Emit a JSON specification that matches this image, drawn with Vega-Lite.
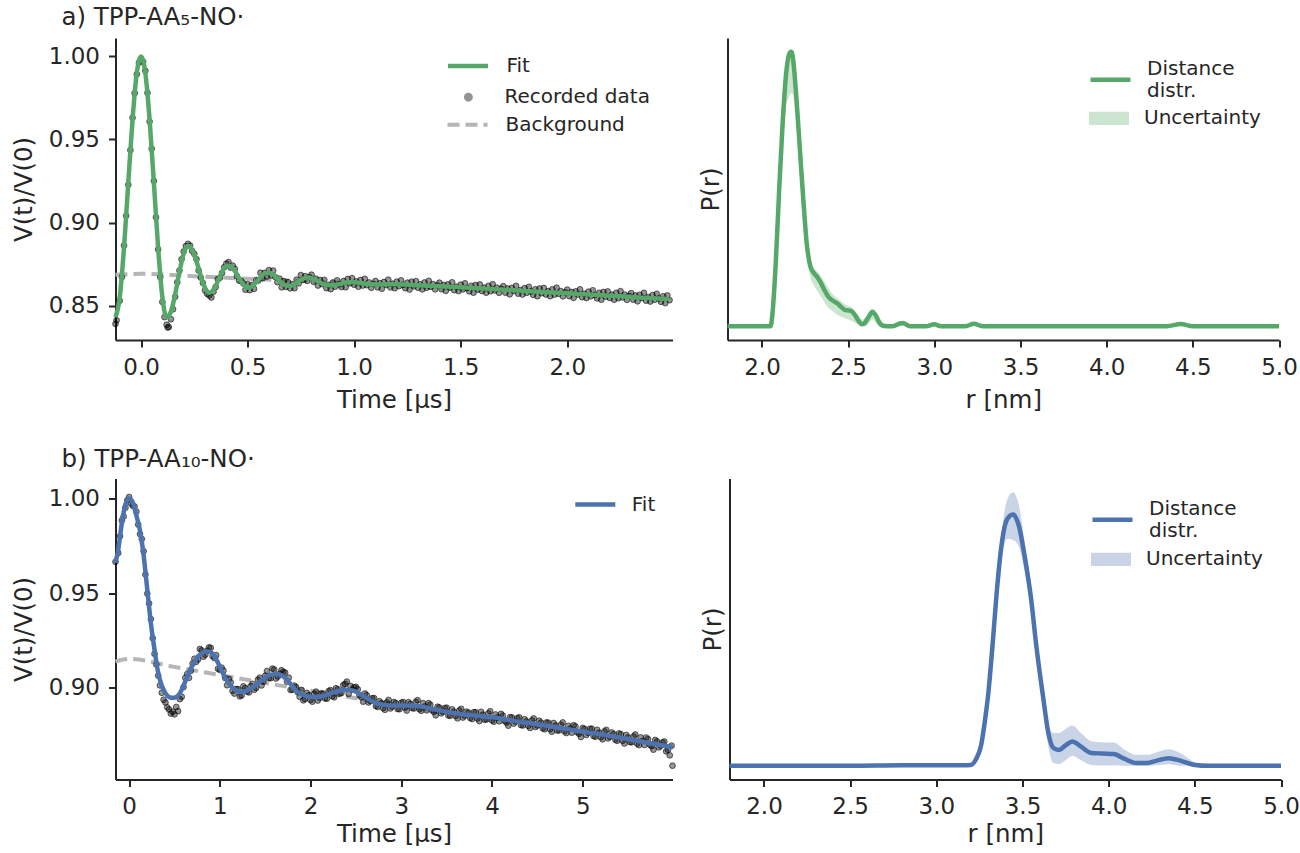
{
"$schema": "https://vega.github.io/schema/vega-lite/v6.json",
"background": "white",
"padding": {"left": 10.5, "top": 5, "right": 0, "bottom": 0},
"config": {
  "font": "DejaVu Sans",
  "view": {"stroke": null},
  "axis": {"grid": false, "domainColor": "#262626", "domainWidth": 2, "tickColor": "#262626", "tickWidth": 2, "tickSize": 7, "labelFontSize": 23, "labelColor": "#262626", "labelPadding": 9, "titleFontSize": 24.5, "titleFontWeight": "normal", "titleColor": "#262626", "titlePadding": 8, "labelFlush": false, "labelOverlap": false},
  "legend": {"labelFontSize": 20, "labelColor": "#262626", "labelFont": "DejaVu Sans", "padding": 0, "orient": "none", "title": null},
  "title": {"fontSize": 24.5, "fontWeight": "normal", "color": "#262626", "anchor": "start", "font": "DejaVu Sans"}
},
"datasets": {
"a_fit": [
{"t":-0.12,"v":0.843},{"t":-0.10,"v":0.855},{"t":-0.08,"v":0.885},{"t":-0.06,"v":0.924},{"t":-0.04,"v":0.962},{"t":-0.02,"v":0.990},{"t":0.00,"v":1.000},{"t":0.02,"v":0.990},{"t":0.04,"v":0.962},{"t":0.06,"v":0.924},{"t":0.08,"v":0.885},{"t":0.10,"v":0.855},{"t":0.12,"v":0.843},{"t":0.14,"v":0.8464},{"t":0.16,"v":0.8568},{"t":0.18,"v":0.8702},{"t":0.20,"v":0.8814},{"t":0.22,"v":0.8860},{"t":0.24,"v":0.8836},{"t":0.26,"v":0.8767},{"t":0.28,"v":0.8680},{"t":0.30,"v":0.8608},{"t":0.32,"v":0.8578},{"t":0.34,"v":0.8597},{"t":0.36,"v":0.8647},{"t":0.38,"v":0.8704},{"t":0.40,"v":0.8740},{"t":0.42,"v":0.8738},{"t":0.44,"v":0.8709},{"t":0.46,"v":0.8665},{"t":0.48,"v":0.8627},{"t":0.50,"v":0.8608},{"t":0.52,"v":0.8616},{"t":0.54,"v":0.8640},{"t":0.56,"v":0.8671},{"t":0.58,"v":0.8694},{"t":0.60,"v":0.8698},{"t":0.62,"v":0.8686},{"t":0.64,"v":0.8662},{"t":0.66,"v":0.8638},{"t":0.68,"v":0.8621},{"t":0.70,"v":0.8619},{"t":0.72,"v":0.8629},{"t":0.74,"v":0.8647},{"t":0.76,"v":0.8662},{"t":0.78,"v":0.8669},{"t":0.80,"v":0.8665},{"t":0.82,"v":0.8654},{"t":0.84,"v":0.8640},{"t":0.86,"v":0.8628},{"t":0.88,"v":0.8622},{"t":0.90,"v":0.8623},{"t":0.92,"v":0.8627},{"t":0.94,"v":0.8633},{"t":0.96,"v":0.8639},{"t":0.98,"v":0.8642},{"t":1.00,"v":0.8641},{"t":1.04,"v":0.8634},{"t":1.08,"v":0.8628},{"t":1.12,"v":0.8627},{"t":1.16,"v":0.8629},{"t":1.20,"v":0.8628},{"t":1.30,"v":0.8623},{"t":1.40,"v":0.8617},{"t":1.50,"v":0.8610},{"t":1.60,"v":0.8603},{"t":1.70,"v":0.8596},{"t":1.80,"v":0.8588},{"t":1.90,"v":0.8581},{"t":2.00,"v":0.8574},{"t":2.10,"v":0.8567},{"t":2.20,"v":0.8560},{"t":2.30,"v":0.8552},{"t":2.40,"v":0.8545},{"t":2.48,"v":0.8540}
],
"a_rec": [
{"t":-0.12,"v":0.8390},{"t":-0.115,"v":0.8412},{"t":-0.10,"v":0.8530},{"t":-0.09,"v":0.8672},{"t":-0.08,"v":0.8862},{"t":-0.07,"v":0.9041},{"t":-0.06,"v":0.9228},{"t":-0.05,"v":0.9436},{"t":-0.04,"v":0.9631},{"t":-0.03,"v":0.9779},{"t":-0.02,"v":0.9893},{"t":-0.01,"v":0.9962},{"t":0.00,"v":0.9985},{"t":0.01,"v":0.9967},{"t":0.02,"v":0.9914},{"t":0.03,"v":0.9781},{"t":0.04,"v":0.9608},{"t":0.05,"v":0.9445},{"t":0.06,"v":0.9251},{"t":0.07,"v":0.9032},{"t":0.08,"v":0.8838},{"t":0.09,"v":0.8671},{"t":0.10,"v":0.8522},{"t":0.11,"v":0.8431},{"t":0.12,"v":0.8385},{"t":0.125,"v":0.8368},{"t":0.13,"v":0.8372},{"t":0.14,"v":0.8418},{"t":0.15,"v":0.8478},{"t":0.16,"v":0.8553},{"t":0.17,"v":0.8641},{"t":0.18,"v":0.8711},{"t":0.19,"v":0.8779},{"t":0.20,"v":0.8826},{"t":0.21,"v":0.8858},{"t":0.22,"v":0.8872},{"t":0.23,"v":0.8861},{"t":0.24,"v":0.8829},{"t":0.25,"v":0.8811},{"t":0.26,"v":0.8779},{"t":0.27,"v":0.8712},{"t":0.28,"v":0.8669},{"t":0.29,"v":0.8637},{"t":0.30,"v":0.8592},{"t":0.31,"v":0.8571},{"t":0.32,"v":0.8561},{"t":0.33,"v":0.8549},{"t":0.34,"v":0.8584},{"t":0.35,"v":0.8612},{"t":0.36,"v":0.8659},{"t":0.37,"v":0.8668},{"t":0.38,"v":0.8697},{"t":0.39,"v":0.8731},{"t":0.40,"v":0.8753},{"t":0.41,"v":0.8762},{"t":0.42,"v":0.8729},{"t":0.43,"v":0.8741},{"t":0.44,"v":0.8721},{"t":0.45,"v":0.8677},{"t":0.46,"v":0.8651},{"t":0.47,"v":0.8648},{"t":0.48,"v":0.8634},{"t":0.49,"v":0.8596},
{"t":0.50,"v":0.8629},{"t":0.51,"v":0.8593},{"t":0.52,"v":0.8624},{"t":0.53,"v":0.8601},{"t":0.54,"v":0.8654},{"t":0.55,"v":0.8651},{"t":0.56,"v":0.8698},{"t":0.57,"v":0.8665},{"t":0.58,"v":0.8697},{"t":0.59,"v":0.8675},{"t":0.60,"v":0.8714},{"t":0.61,"v":0.8682},{"t":0.62,"v":0.8711},{"t":0.63,"v":0.8672},{"t":0.64,"v":0.8641},{"t":0.65,"v":0.8662},{"t":0.66,"v":0.8610},{"t":0.67,"v":0.8647},{"t":0.68,"v":0.8613},{"t":0.69,"v":0.8641},{"t":0.70,"v":0.8604},{"t":0.71,"v":0.8629},{"t":0.72,"v":0.8605},{"t":0.73,"v":0.8656},{"t":0.74,"v":0.8634},{"t":0.75,"v":0.8684},{"t":0.76,"v":0.8655},{"t":0.77,"v":0.8677},{"t":0.78,"v":0.8649},{"t":0.79,"v":0.8672},{"t":0.80,"v":0.8686},{"t":0.81,"v":0.8643},{"t":0.82,"v":0.8662},{"t":0.83,"v":0.8621},{"t":0.84,"v":0.8654},{"t":0.85,"v":0.8629},{"t":0.86,"v":0.8655},{"t":0.87,"v":0.8605},{"t":0.88,"v":0.8625},{"t":0.89,"v":0.8599},{"t":0.90,"v":0.8639},{"t":0.91,"v":0.8614},{"t":0.92,"v":0.8652},{"t":0.93,"v":0.8628},{"t":0.94,"v":0.8612},{"t":0.95,"v":0.8648},{"t":0.96,"v":0.8611},{"t":0.97,"v":0.8660},{"t":0.98,"v":0.8634},{"t":0.99,"v":0.8665},
{"t":1.00,"v":0.8626},{"t":1.01,"v":0.8646},{"t":1.02,"v":0.8614},{"t":1.03,"v":0.8654},{"t":1.04,"v":0.8621},{"t":1.05,"v":0.8661},{"t":1.06,"v":0.8623},{"t":1.07,"v":0.8639},{"t":1.08,"v":0.8608},{"t":1.09,"v":0.8631},{"t":1.10,"v":0.8648},{"t":1.11,"v":0.8610},{"t":1.12,"v":0.8635},{"t":1.13,"v":0.8602},{"t":1.14,"v":0.8642},{"t":1.15,"v":0.8624},{"t":1.16,"v":0.8656},{"t":1.17,"v":0.8610},{"t":1.18,"v":0.8632},{"t":1.19,"v":0.8605},{"t":1.20,"v":0.8644},{"t":1.21,"v":0.8617},{"t":1.22,"v":0.8652},{"t":1.23,"v":0.8625},{"t":1.24,"v":0.8605},{"t":1.25,"v":0.8638},{"t":1.26,"v":0.8597},{"t":1.27,"v":0.8644},{"t":1.28,"v":0.8616},{"t":1.29,"v":0.8647},{"t":1.30,"v":0.8608},{"t":1.31,"v":0.8628},{"t":1.32,"v":0.8598},{"t":1.33,"v":0.8639},{"t":1.34,"v":0.8608},{"t":1.35,"v":0.8649},{"t":1.36,"v":0.8613},{"t":1.37,"v":0.8629},{"t":1.38,"v":0.8598},{"t":1.39,"v":0.8622},{"t":1.40,"v":0.8638},{"t":1.41,"v":0.8599},{"t":1.42,"v":0.8624},{"t":1.43,"v":0.8589},{"t":1.44,"v":0.8628},{"t":1.45,"v":0.8608},{"t":1.46,"v":0.8640},{"t":1.47,"v":0.8593},{"t":1.48,"v":0.8614},{"t":1.49,"v":0.8588},
{"t":1.50,"v":0.8626},{"t":1.51,"v":0.8598},{"t":1.52,"v":0.8634},{"t":1.53,"v":0.8606},{"t":1.54,"v":0.8586},{"t":1.55,"v":0.8619},{"t":1.56,"v":0.8578},{"t":1.57,"v":0.8624},{"t":1.58,"v":0.8596},{"t":1.59,"v":0.8627},{"t":1.60,"v":0.8588},{"t":1.61,"v":0.8608},{"t":1.62,"v":0.8578},{"t":1.63,"v":0.8619},{"t":1.64,"v":0.8587},{"t":1.65,"v":0.8629},{"t":1.66,"v":0.8592},{"t":1.67,"v":0.8608},{"t":1.68,"v":0.8577},{"t":1.69,"v":0.8601},{"t":1.70,"v":0.8617},{"t":1.71,"v":0.8578},{"t":1.72,"v":0.8603},{"t":1.73,"v":0.8568},{"t":1.74,"v":0.8607},{"t":1.75,"v":0.8588},{"t":1.76,"v":0.8619},{"t":1.77,"v":0.8572},{"t":1.78,"v":0.8593},{"t":1.79,"v":0.8567},{"t":1.80,"v":0.8605},{"t":1.81,"v":0.8577},{"t":1.82,"v":0.8613},{"t":1.83,"v":0.8585},{"t":1.84,"v":0.8565},{"t":1.85,"v":0.8598},{"t":1.86,"v":0.8557},{"t":1.87,"v":0.8603},{"t":1.88,"v":0.8575},{"t":1.89,"v":0.8606},{"t":1.90,"v":0.8567},{"t":1.91,"v":0.8587},{"t":1.92,"v":0.8557},{"t":1.93,"v":0.8598},{"t":1.94,"v":0.8566},{"t":1.95,"v":0.8608},{"t":1.96,"v":0.8571},{"t":1.97,"v":0.8587},{"t":1.98,"v":0.8556},{"t":1.99,"v":0.8580},
{"t":2.00,"v":0.8596},{"t":2.01,"v":0.8557},{"t":2.02,"v":0.8582},{"t":2.03,"v":0.8547},{"t":2.04,"v":0.8586},{"t":2.05,"v":0.8567},{"t":2.06,"v":0.8598},{"t":2.07,"v":0.8551},{"t":2.08,"v":0.8572},{"t":2.09,"v":0.8546},{"t":2.10,"v":0.8584},{"t":2.11,"v":0.8556},{"t":2.12,"v":0.8592},{"t":2.13,"v":0.8564},{"t":2.14,"v":0.8544},{"t":2.15,"v":0.8577},{"t":2.16,"v":0.8536},{"t":2.17,"v":0.8582},{"t":2.18,"v":0.8554},{"t":2.19,"v":0.8585},{"t":2.20,"v":0.8546},{"t":2.21,"v":0.8566},{"t":2.22,"v":0.8536},{"t":2.23,"v":0.8577},{"t":2.24,"v":0.8545},{"t":2.25,"v":0.8587},{"t":2.26,"v":0.8550},{"t":2.27,"v":0.8566},{"t":2.28,"v":0.8535},{"t":2.29,"v":0.8559},{"t":2.30,"v":0.8575},{"t":2.31,"v":0.8536},{"t":2.32,"v":0.8561},{"t":2.33,"v":0.8526},{"t":2.34,"v":0.8565},{"t":2.35,"v":0.8546},{"t":2.36,"v":0.8577},{"t":2.37,"v":0.8530},{"t":2.38,"v":0.8551},{"t":2.39,"v":0.8525},{"t":2.40,"v":0.8563},{"t":2.41,"v":0.8535},{"t":2.42,"v":0.8571},{"t":2.43,"v":0.8543},{"t":2.44,"v":0.8523},{"t":2.45,"v":0.8556},{"t":2.46,"v":0.8515},{"t":2.47,"v":0.8561},{"t":2.48,"v":0.8533}
],
"a_bg": [
{"t":-0.12,"v":0.8686},{"t":-0.06,"v":0.8689},{"t":0.0,"v":0.8692},{"t":0.25,"v":0.8677},{"t":0.5,"v":0.8662},{"t":1.0,"v":0.8634},{"t":1.5,"v":0.8605},{"t":2.0,"v":0.8573},{"t":2.48,"v":0.8542}
],
"b_fit": [
{"t":-0.15,"v":0.966},{"t":-0.12,"v":0.973},{"t":-0.08,"v":0.987},{"t":-0.04,"v":0.997},{"t":0.00,"v":1.000},{"t":0.04,"v":0.998},{"t":0.08,"v":0.991},{"t":0.12,"v":0.983},{"t":0.16,"v":0.970},{"t":0.20,"v":0.952},{"t":0.24,"v":0.934},{"t":0.28,"v":0.920},{"t":0.32,"v":0.908},{"t":0.36,"v":0.901},{"t":0.40,"v":0.897},{"t":0.44,"v":0.895},{"t":0.48,"v":0.8945},{"t":0.52,"v":0.895},{"t":0.56,"v":0.897},{"t":0.60,"v":0.901},{"t":0.64,"v":0.9055},{"t":0.68,"v":0.910},{"t":0.72,"v":0.9135},{"t":0.76,"v":0.9165},{"t":0.80,"v":0.918},{"t":0.84,"v":0.919},{"t":0.88,"v":0.919},{"t":0.92,"v":0.918},{"t":0.96,"v":0.915},{"t":1.00,"v":0.911},{"t":1.04,"v":0.907},{"t":1.08,"v":0.9035},{"t":1.12,"v":0.901},{"t":1.16,"v":0.899},{"t":1.20,"v":0.898},{"t":1.24,"v":0.8977},{"t":1.28,"v":0.898},{"t":1.32,"v":0.899},{"t":1.36,"v":0.900},{"t":1.40,"v":0.9015},{"t":1.44,"v":0.903},{"t":1.48,"v":0.9045},{"t":1.52,"v":0.906},{"t":1.56,"v":0.9068},{"t":1.60,"v":0.907},{"t":1.64,"v":0.907},{"t":1.68,"v":0.9065},{"t":1.72,"v":0.905},{"t":1.76,"v":0.903},{"t":1.80,"v":0.9005},{"t":1.84,"v":0.8985},{"t":1.88,"v":0.897},{"t":1.92,"v":0.896},{"t":1.96,"v":0.8953},{"t":2.00,"v":0.895},{"t":2.08,"v":0.895},{"t":2.16,"v":0.8958},{"t":2.24,"v":0.8972},{"t":2.32,"v":0.8983},{"t":2.40,"v":0.8988},{"t":2.48,"v":0.8982},{"t":2.56,"v":0.8962},{"t":2.64,"v":0.8938},{"t":2.72,"v":0.8918},{"t":2.80,"v":0.8908},{"t":2.90,"v":0.8905},{"t":3.05,"v":0.8905},{"t":3.15,"v":0.8903},{"t":3.25,"v":0.8897},{"t":3.35,"v":0.8887},{"t":3.45,"v":0.8876},{"t":3.55,"v":0.8867},{"t":3.65,"v":0.8860},{"t":3.80,"v":0.8852},{"t":4.00,"v":0.8842},{"t":4.25,"v":0.8823},{"t":4.50,"v":0.8805},{"t":4.75,"v":0.8786},{"t":5.00,"v":0.8767},{"t":5.25,"v":0.8748},{"t":5.50,"v":0.8727},{"t":5.75,"v":0.8705},{"t":5.99,"v":0.8684}
],
"b_rec": [
{"t":-0.15,"v":0.9665},{"t":-0.12,"v":0.9712},{"t":-0.10,"v":0.9801},{"t":-0.08,"v":0.9884},{"t":-0.06,"v":0.9905},{"t":-0.04,"v":0.9952},{"t":-0.02,"v":0.9991},{"t":0.00,"v":1.0008},{"t":0.02,"v":0.9975},{"t":0.04,"v":0.9962},{"t":0.06,"v":0.9958},{"t":0.08,"v":0.9931},{"t":0.10,"v":0.9862},{"t":0.12,"v":0.9812},{"t":0.14,"v":0.9786},{"t":0.16,"v":0.9721},{"t":0.18,"v":0.9598},{"t":0.20,"v":0.9497},{"t":0.22,"v":0.9445},{"t":0.24,"v":0.9362},{"t":0.26,"v":0.9261},{"t":0.28,"v":0.9178},{"t":0.30,"v":0.9122},{"t":0.32,"v":0.9063},{"t":0.34,"v":0.9011},{"t":0.36,"v":0.8972},{"t":0.38,"v":0.8935},{"t":0.40,"v":0.8921},{"t":0.42,"v":0.8895},{"t":0.44,"v":0.8884},{"t":0.46,"v":0.8862},{"t":0.48,"v":0.8872},{"t":0.50,"v":0.8858},{"t":0.52,"v":0.8897},{"t":0.54,"v":0.8875},{"t":0.56,"v":0.8938},{"t":0.58,"v":0.8951},{"t":0.60,"v":0.9002},{"t":0.64,"v":0.9071},{"t":0.68,"v":0.9088},{"t":0.72,"v":0.9152},{"t":0.76,"v":0.9149},{"t":0.80,"v":0.9196},{"t":0.84,"v":0.9173},{"t":0.88,"v":0.9212},{"t":0.92,"v":0.9166},{"t":0.96,"v":0.9171},{"t":1.00,"v":0.9093},{"t":1.04,"v":0.9089},{"t":1.08,"v":0.9012},{"t":1.12,"v":0.9027},{"t":1.16,"v":0.8968},{"t":1.20,"v":0.8991},{"t":1.24,"v":0.8958},{"t":1.28,"v":0.8997},{"t":1.32,"v":0.8974},{"t":1.36,"v":0.9019},{"t":1.40,"v":0.8998},{"t":1.44,"v":0.9052},{"t":1.48,"v":0.9031},{"t":1.52,"v":0.9087},{"t":1.56,"v":0.9049},{"t":1.60,"v":0.9095},{"t":1.64,"v":0.9058},{"t":1.68,"v":0.9091},{"t":1.72,"v":0.9079},{"t":1.76,"v":0.9052},{"t":1.80,"v":0.8988},{"t":1.84,"v":0.9003},{"t":1.88,"v":0.8951},{"t":1.92,"v":0.8932},{"t":1.96,"v":0.8971},{"t":2.00,"v":0.8934},{"t":2.04,"v":0.8966},{"t":2.08,"v":0.8931},{"t":2.12,"v":0.8969},{"t":2.16,"v":0.8942},{"t":2.20,"v":0.8981},{"t":2.24,"v":0.8954},{"t":2.28,"v":0.8996},{"t":2.32,"v":0.8967},{"t":2.36,"v":0.9012},{"t":2.40,"v":0.9031},{"t":2.44,"v":0.9008},{"t":2.48,"v":0.9001},{"t":2.52,"v":0.8991},{"t":2.56,"v":0.8948},{"t":2.60,"v":0.8968},{"t":2.64,"v":0.8921},{"t":2.68,"v":0.8943},{"t":2.72,"v":0.8902},{"t":2.76,"v":0.8927},{"t":2.80,"v":0.8891},{"t":2.84,"v":0.8921},{"t":2.88,"v":0.8889},{"t":2.92,"v":0.8923},{"t":2.96,"v":0.8886},{"t":3.00,"v":0.8919},{"t":3.04,"v":0.8893},{"t":3.08,"v":0.8922},{"t":3.12,"v":0.8891},{"t":3.16,"v":0.8924},{"t":3.20,"v":0.8885},{"t":3.24,"v":0.8917},{"t":3.28,"v":0.8879},{"t":3.32,"v":0.8909},{"t":3.36,"v":0.8871},{"t":3.40,"v":0.8898},{"t":3.44,"v":0.8863},{"t":3.48,"v":0.8891},{"t":3.52,"v":0.8852},{"t":3.56,"v":0.8884},{"t":3.60,"v":0.8849},{"t":3.64,"v":0.8878},{"t":3.68,"v":0.8841},{"t":3.72,"v":0.8872},{"t":3.76,"v":0.8839},{"t":3.80,"v":0.8869},{"t":3.84,"v":0.8836},{"t":3.88,"v":0.8871},{"t":3.92,"v":0.8829},{"t":3.96,"v":0.8863},{"t":4.00,"v":0.8826},{"t":4.04,"v":0.8857},{"t":4.08,"v":0.8821},{"t":4.12,"v":0.8851},{"t":4.16,"v":0.8814},{"t":4.20,"v":0.8843},{"t":4.24,"v":0.8809},{"t":4.28,"v":0.8838},{"t":4.32,"v":0.8801},{"t":4.36,"v":0.8832},{"t":4.40,"v":0.8797},{"t":4.44,"v":0.8826},{"t":4.48,"v":0.8791},{"t":4.52,"v":0.8824},{"t":4.56,"v":0.8784},{"t":4.60,"v":0.8815},{"t":4.64,"v":0.8779},{"t":4.68,"v":0.8812},{"t":4.72,"v":0.8772},{"t":4.76,"v":0.8803},{"t":4.80,"v":0.8768},{"t":4.84,"v":0.8797},{"t":4.88,"v":0.8761},{"t":4.92,"v":0.8794},{"t":4.96,"v":0.8755},{"t":5.00,"v":0.8786},{"t":5.04,"v":0.8749},{"t":5.08,"v":0.8781},{"t":5.12,"v":0.8743},{"t":5.16,"v":0.8776},{"t":5.20,"v":0.8737},{"t":5.24,"v":0.8768},{"t":5.28,"v":0.8731},{"t":5.32,"v":0.8762},{"t":5.36,"v":0.8724},{"t":5.40,"v":0.8757},{"t":5.44,"v":0.8718},{"t":5.48,"v":0.8749},{"t":5.52,"v":0.8711},{"t":5.56,"v":0.8741},{"t":5.60,"v":0.8703},{"t":5.64,"v":0.8736},{"t":5.68,"v":0.8696},{"t":5.72,"v":0.8727},{"t":5.76,"v":0.8689},{"t":5.80,"v":0.8722},{"t":5.84,"v":0.8683},{"t":5.88,"v":0.8709},{"t":5.92,"v":0.8662},{"t":5.96,"v":0.8641},{"t":5.99,"v":0.8586},
{"t":0.62,"v":0.9051},{"t":0.66,"v":0.9051},{"t":0.70,"v":0.9127},{"t":0.74,"v":0.9136},{"t":0.78,"v":0.9204},{"t":0.82,"v":0.9163},{"t":0.86,"v":0.9194},{"t":0.90,"v":0.9210},{"t":0.94,"v":0.9156},{"t":0.98,"v":0.9099},{"t":1.02,"v":0.9105},{"t":1.06,"v":0.9050},{"t":1.10,"v":0.9045},{"t":1.14,"v":0.8982},{"t":1.18,"v":0.8992},{"t":1.22,"v":0.8953},{"t":1.26,"v":0.9006},{"t":1.30,"v":0.8979},{"t":1.34,"v":0.9007},{"t":1.38,"v":0.8988},{"t":1.42,"v":0.9041},{"t":1.46,"v":0.9011},{"t":1.50,"v":0.9062},{"t":1.54,"v":0.9050},{"t":1.58,"v":0.9100},{"t":1.62,"v":0.9048},{"t":1.66,"v":0.9072},{"t":1.70,"v":0.9083},{"t":1.74,"v":0.9031},{"t":1.78,"v":0.8987},{"t":1.82,"v":0.9010},{"t":1.86,"v":0.8975},{"t":1.90,"v":0.8987},{"t":1.94,"v":0.8939},{"t":1.98,"v":0.8959},{"t":2.02,"v":0.8925},{"t":2.06,"v":0.8978},{"t":2.10,"v":0.8945},{"t":2.14,"v":0.8967},{"t":2.18,"v":0.8941},{"t":2.22,"v":0.8986},{"t":2.26,"v":0.8948},{"t":2.30,"v":0.8990},{"t":2.34,"v":0.8971},{"t":2.38,"v":0.9019},{"t":2.42,"v":0.8966},{"t":2.46,"v":0.8989},{"t":2.50,"v":0.9003},{"t":2.54,"v":0.8959},{"t":2.58,"v":0.8925},{"t":2.62,"v":0.8959},{"t":2.66,"v":0.8929},{"t":2.70,"v":0.8944},{"t":2.74,"v":0.8897},{"t":2.78,"v":0.8917},{"t":2.82,"v":0.8882},{"t":2.86,"v":0.8934},{"t":2.90,"v":0.8899},{"t":2.94,"v":0.8917},{"t":2.98,"v":0.8885},{"t":3.02,"v":0.8923},{"t":3.06,"v":0.8878},{"t":3.10,"v":0.8913},{"t":3.14,"v":0.8889},{"t":3.18,"v":0.8933},{"t":3.22,"v":0.8877},{"t":3.26,"v":0.8900},{"t":3.30,"v":0.8917},{"t":3.34,"v":0.8879},{"t":3.38,"v":0.8853},{"t":3.42,"v":0.8894},{"t":3.46,"v":0.8872},{"t":3.50,"v":0.8893},{"t":3.54,"v":0.8850},{"t":3.58,"v":0.8872},{"t":3.62,"v":0.8837},{"t":3.66,"v":0.8887},{"t":3.70,"v":0.8851},{"t":3.74,"v":0.8867},{"t":3.78,"v":0.8833},{"t":3.82,"v":0.8869},{"t":3.86,"v":0.8822},{"t":3.90,"v":0.8856},{"t":3.94,"v":0.8831},{"t":3.98,"v":0.8874},{"t":4.02,"v":0.8819},{"t":4.06,"v":0.8842},{"t":4.10,"v":0.8860},{"t":4.14,"v":0.8823},{"t":4.18,"v":0.8798},{"t":4.22,"v":0.8841},{"t":4.26,"v":0.8820},{"t":4.30,"v":0.8842},{"t":4.34,"v":0.8799},{"t":4.38,"v":0.8821},{"t":4.42,"v":0.8786},{"t":4.46,"v":0.8836},{"t":4.50,"v":0.8799},{"t":4.54,"v":0.8814},{"t":4.58,"v":0.8779},{"t":4.62,"v":0.8814},{"t":4.66,"v":0.8766},{"t":4.70,"v":0.8799},{"t":4.74,"v":0.8773},{"t":4.78,"v":0.8815},{"t":4.82,"v":0.8759},{"t":4.86,"v":0.8782},{"t":4.90,"v":0.8800},{"t":4.94,"v":0.8763},{"t":4.98,"v":0.8738},{"t":5.02,"v":0.8781},{"t":5.06,"v":0.8760},{"t":5.10,"v":0.8782},{"t":5.14,"v":0.8739},{"t":5.18,"v":0.8761},{"t":5.22,"v":0.8726},{"t":5.26,"v":0.8776},{"t":5.30,"v":0.8739},{"t":5.34,"v":0.8753},{"t":5.38,"v":0.8718},{"t":5.42,"v":0.8753},{"t":5.46,"v":0.8704},{"t":5.50,"v":0.8736},{"t":5.54,"v":0.8710},{"t":5.58,"v":0.8751},{"t":5.62,"v":0.8695},{"t":5.66,"v":0.8717},{"t":5.70,"v":0.8735},{"t":5.74,"v":0.8697},{"t":5.78,"v":0.8671},{"t":5.82,"v":0.8714},{"t":5.86,"v":0.8692},{"t":5.90,"v":0.8714},{"t":5.94,"v":0.8670},{"t":5.98,"v":0.8692}
],
"b_bg": [
{"t":-0.15,"v":0.9138},{"t":-0.10,"v":0.9144},{"t":-0.05,"v":0.9149},{"t":0.0,"v":0.9152},{"t":0.5,"v":0.9109},{"t":1.0,"v":0.9066},{"t":1.5,"v":0.9024},{"t":2.0,"v":0.8983},{"t":2.5,"v":0.8943},{"t":3.0,"v":0.8905},{"t":3.5,"v":0.8868},{"t":4.0,"v":0.8836},{"t":4.5,"v":0.8802},{"t":5.0,"v":0.8765},{"t":5.5,"v":0.8727},{"t":5.99,"v":0.8686}
],
"ar": [
{"r":1.80,"p":0,"lo":0,"hi":0},{"r":2.00,"p":0,"lo":0,"hi":0},{"r":2.05,"p":0,"lo":0,"hi":0.003},{"r":2.06,"p":0.04,"lo":0.03,"hi":0.05},{"r":2.08,"p":0.23,"lo":0.2,"hi":0.25},{"r":2.10,"p":0.50,"lo":0.45,"hi":0.52},{"r":2.12,"p":0.74,"lo":0.66,"hi":0.76},{"r":2.14,"p":0.92,"lo":0.8,"hi":0.93},{"r":2.16,"p":0.995,"lo":0.84,"hi":1.0},{"r":2.17,"p":1.0,"lo":0.85,"hi":1.0},{"r":2.18,"p":0.975,"lo":0.84,"hi":0.98},{"r":2.20,"p":0.83,"lo":0.73,"hi":0.84},{"r":2.22,"p":0.645,"lo":0.58,"hi":0.66},{"r":2.24,"p":0.46,"lo":0.41,"hi":0.47},{"r":2.26,"p":0.30,"lo":0.26,"hi":0.31},{"r":2.28,"p":0.22,"lo":0.18,"hi":0.235},{"r":2.30,"p":0.195,"lo":0.15,"hi":0.21},{"r":2.32,"p":0.18,"lo":0.13,"hi":0.20},{"r":2.34,"p":0.16,"lo":0.11,"hi":0.185},{"r":2.36,"p":0.135,"lo":0.09,"hi":0.165},{"r":2.38,"p":0.112,"lo":0.07,"hi":0.145},{"r":2.40,"p":0.098,"lo":0.06,"hi":0.125},{"r":2.42,"p":0.09,"lo":0.05,"hi":0.11},{"r":2.44,"p":0.082,"lo":0.04,"hi":0.10},{"r":2.46,"p":0.07,"lo":0.035,"hi":0.09},{"r":2.48,"p":0.06,"lo":0.03,"hi":0.08},{"r":2.50,"p":0.058,"lo":0.025,"hi":0.075},{"r":2.52,"p":0.055,"lo":0.02,"hi":0.07},{"r":2.54,"p":0.04,"lo":0.012,"hi":0.055},{"r":2.56,"p":0.02,"lo":0.005,"hi":0.04},{"r":2.58,"p":0.007,"lo":0,"hi":0.025},{"r":2.60,"p":0.015,"lo":0,"hi":0.03},{"r":2.62,"p":0.035,"lo":0.01,"hi":0.05},{"r":2.64,"p":0.052,"lo":0.025,"hi":0.065},{"r":2.66,"p":0.04,"lo":0.015,"hi":0.055},{"r":2.68,"p":0.015,"lo":0,"hi":0.03},{"r":2.70,"p":0.002,"lo":0,"hi":0.015},{"r":2.72,"p":0,"lo":0,"hi":0.01},{"r":2.76,"p":0,"lo":0,"hi":0.008},{"r":2.80,"p":0.01,"lo":0,"hi":0.018},{"r":2.82,"p":0.012,"lo":0.004,"hi":0.018},{"r":2.84,"p":0.005,"lo":0,"hi":0.012},{"r":2.86,"p":0,"lo":0,"hi":0.005},{"r":2.95,"p":0,"lo":0,"hi":0.003},{"r":3.00,"p":0.007,"lo":0.003,"hi":0.01},{"r":3.04,"p":0,"lo":0,"hi":0.003},{"r":3.18,"p":0,"lo":0,"hi":0},{"r":3.23,"p":0.009,"lo":0.005,"hi":0.012},{"r":3.28,"p":0,"lo":0,"hi":0},{"r":4.35,"p":0,"lo":0,"hi":0},{"r":4.43,"p":0.008,"lo":0.005,"hi":0.011},{"r":4.50,"p":0,"lo":0,"hi":0},{"r":5.00,"p":0,"lo":0,"hi":0}
],
"br": [
{"r":1.80,"p":0,"lo":0,"hi":0.008},{"r":1.85,"p":0,"lo":0,"hi":0.006},{"r":1.95,"p":0,"lo":0,"hi":0.002},{"r":2.50,"p":0,"lo":0,"hi":0.002},{"r":2.80,"p":0.002,"lo":0,"hi":0.006},{"r":3.00,"p":0.002,"lo":0,"hi":0.005},{"r":3.15,"p":0.002,"lo":0,"hi":0.005},{"r":3.20,"p":0.003,"lo":0,"hi":0.006},{"r":3.23,"p":0.024,"lo":0.01,"hi":0.035},{"r":3.26,"p":0.075,"lo":0.06,"hi":0.09},{"r":3.28,"p":0.155,"lo":0.14,"hi":0.17},{"r":3.30,"p":0.255,"lo":0.24,"hi":0.28},{"r":3.33,"p":0.47,"lo":0.44,"hi":0.5},{"r":3.35,"p":0.63,"lo":0.6,"hi":0.67},{"r":3.38,"p":0.814,"lo":0.76,"hi":0.86},{"r":3.41,"p":0.9,"lo":0.83,"hi":0.97},{"r":3.445,"p":0.918,"lo":0.825,"hi":1.0},{"r":3.48,"p":0.875,"lo":0.8,"hi":0.95},{"r":3.51,"p":0.775,"lo":0.72,"hi":0.83},{"r":3.55,"p":0.61,"lo":0.57,"hi":0.65},{"r":3.58,"p":0.44,"lo":0.41,"hi":0.47},{"r":3.62,"p":0.25,"lo":0.22,"hi":0.28},{"r":3.65,"p":0.12,"lo":0.07,"hi":0.15},{"r":3.68,"p":0.065,"lo":0.01,"hi":0.12},{"r":3.71,"p":0.058,"lo":0.006,"hi":0.12},{"r":3.75,"p":0.075,"lo":0.02,"hi":0.135},{"r":3.79,"p":0.089,"lo":0.037,"hi":0.147},{"r":3.84,"p":0.07,"lo":0.02,"hi":0.12},{"r":3.90,"p":0.047,"lo":0.003,"hi":0.09},{"r":3.96,"p":0.045,"lo":0.001,"hi":0.086},{"r":4.03,"p":0.043,"lo":0.002,"hi":0.085},{"r":4.09,"p":0.026,"lo":0,"hi":0.06},{"r":4.16,"p":0.01,"lo":0,"hi":0.04},{"r":4.22,"p":0.01,"lo":0,"hi":0.04},{"r":4.28,"p":0.019,"lo":0.002,"hi":0.05},{"r":4.35,"p":0.028,"lo":0.006,"hi":0.061},{"r":4.42,"p":0.018,"lo":0,"hi":0.045},{"r":4.50,"p":0.003,"lo":0,"hi":0.013},{"r":4.58,"p":0,"lo":0,"hi":0.002},{"r":5.00,"p":0,"lo":0,"hi":0}
]
},
"resolve": {"scale": {"x": "independent", "y": "independent", "color": "independent", "fill": "independent", "shape": "independent", "strokeDash": "independent"}, "legend": {"color": "independent", "fill": "independent", "shape": "independent", "strokeDash": "independent"}},
"spacing": 34.5,
"vconcat": [
{
 "spacing": 19,
 "resolve": {"scale": {"x": "independent", "y": "independent", "color": "independent", "fill": "independent", "shape": "independent", "strokeDash": "independent"}, "legend": {"color": "independent", "fill": "independent", "shape": "independent", "strokeDash": "independent"}},
 "hconcat": [
  {
   "width": 557, "height": 302,
   "title": {"text": "a) TPP-AA₅-NO·", "dx": -54, "offset": 7.5, "frame": "group"},
   "encoding": {
     "x": {"field": "t", "type": "quantitative", "scale": {"domain": [-0.12, 2.494], "nice": false, "zero": false}, "axis": {"title": "Time [μs]", "values": [0, 0.5, 1, 1.5, 2], "format": ".1f", "titlePadding": 9}},
     "y": {"field": "v", "type": "quantitative", "scale": {"domain": [0.8293, 1.0111], "nice": false, "zero": false}, "axis": {"title": "V(t)/V(0)", "values": [0.85, 0.9, 0.95, 1.0], "format": ".2f", "titlePadding": 12}}
   },
   "layer": [
    {"data": {"name": "a_bg"}, "mark": {"type": "line", "color": "#b5b5b5", "strokeWidth": 4, "interpolate": "monotone"},
     "encoding": {"strokeDash": {"datum": "Background", "scale": {"domain": ["Background"], "range": [[12, 6]]},
       "legend": {"legendX": 330, "legendY": 64.8, "symbolType": "stroke", "symbolSize": 1600, "symbolStrokeWidth": 4, "symbolStrokeColor": "#b5b5b5", "labelOffset": 16}}}},
    {"data": {"name": "a_rec"}, "mark": {"type": "point", "shape": "circle", "filled": true, "color": "#000000", "size": 34, "fillOpacity": 0.42, "stroke": "#000000", "strokeOpacity": 0.55, "strokeWidth": 1},
     "encoding": {"shape": {"datum": "Recorded data", "scale": {"domain": ["Recorded data"], "range": ["circle"]},
       "legend": {"legendX": 342.9, "legendY": 49.2, "symbolSize": 55, "symbolOpacity": 0.42, "labelOffset": 26}}}},
    {"data": {"name": "a_fit"}, "mark": {"type": "line", "strokeWidth": 4.5, "interpolate": "monotone"},
     "encoding": {"color": {"datum": "Fit", "scale": {"domain": ["Fit"], "range": ["#55a868"]},
       "legend": {"legendX": 330, "legendY": 5.5, "symbolType": "stroke", "symbolSize": 1600, "symbolStrokeWidth": 4.5, "labelOffset": 16}}}}
   ]
  },
  {
   "width": 551.5, "height": 302,
   "data": {"name": "ar"},
   "encoding": {
     "x": {"field": "r", "type": "quantitative", "scale": {"domain": [1.8, 5.0], "nice": false, "zero": false}, "axis": {"title": "r [nm]", "values": [2, 2.5, 3, 3.5, 4, 4.5, 5], "format": ".1f", "titlePadding": 9}}
   },
   "layer": [
    {"mark": {"type": "area", "opacity": 0.3, "interpolate": "monotone"},
     "encoding": {
       "y": {"field": "lo", "type": "quantitative", "scale": {"domain": [-0.05, 1.05], "nice": false, "zero": false}, "axis": {"title": "P(r)", "labels": false, "ticks": false, "titlePadding": 4}},
       "y2": {"field": "hi"},
       "fill": {"datum": "Uncertainty", "scale": {"domain": ["Uncertainty"], "range": ["#55a868"]},
         "legend": {"legendX": 360.5, "legendY": 59.4, "symbolType": "M-1,-0.33H1V0.33H-1Z", "symbolSize": 1600, "symbolOpacity": 0.3, "labelOffset": 14}}}},
    {"mark": {"type": "line", "strokeWidth": 4.5, "interpolate": "monotone"},
     "encoding": {"y": {"field": "p", "type": "quantitative"},
       "color": {"datum": "Distance distr.", "scale": {"domain": ["Distance distr."], "range": ["#55a868"]},
         "legend": {"legendX": 360.5, "legendY": 19.2, "symbolType": "stroke", "symbolSize": 1600, "symbolStrokeWidth": 4.5, "labelOffset": 14, "labelBaseline": "line-bottom",
           "labelExpr": "['Distance', 'distr.']"}}}}
   ]
  }
 ]
},
{
 "spacing": 19,
 "resolve": {"scale": {"x": "independent", "y": "independent", "color": "independent", "fill": "independent", "shape": "independent", "strokeDash": "independent"}, "legend": {"color": "independent", "fill": "independent", "shape": "independent", "strokeDash": "independent"}},
 "hconcat": [
  {
   "width": 557, "height": 301,
   "title": {"text": "b) TPP-AA₁₀-NO·", "dx": -54, "offset": 6.5, "frame": "group"},
   "encoding": {
     "x": {"field": "t", "type": "quantitative", "scale": {"domain": [-0.15, 5.99], "nice": false, "zero": false}, "axis": {"title": "Time [μs]", "values": [0, 1, 2, 3, 4, 5], "format": "d", "titlePadding": 4}},
     "y": {"field": "v", "type": "quantitative", "scale": {"domain": [0.8513, 1.0106], "nice": false, "zero": false}, "axis": {"title": "V(t)/V(0)", "values": [0.9, 0.95, 1.0], "format": ".2f", "titlePadding": 12}}
   },
   "layer": [
    {"data": {"name": "b_bg"}, "mark": {"type": "line", "color": "#b5b5b5", "strokeWidth": 4, "strokeDash": [12, 6], "interpolate": "monotone"}},
    {"data": {"name": "b_rec"}, "mark": {"type": "point", "shape": "circle", "filled": true, "color": "#000000", "size": 34, "fillOpacity": 0.42, "stroke": "#000000", "strokeOpacity": 0.55, "strokeWidth": 1}},
    {"data": {"name": "b_fit"}, "mark": {"type": "line", "strokeWidth": 4.5, "interpolate": "monotone"},
     "encoding": {"color": {"datum": "Fit", "scale": {"domain": ["Fit"], "range": ["#4c72b0"]},
       "legend": {"legendX": 457.3, "legendY": 3.5, "symbolType": "stroke", "symbolSize": 1600, "symbolStrokeWidth": 4.5, "labelOffset": 14}}}}
   ]
  },
  {
   "width": 551.5, "height": 301,
   "data": {"name": "br"},
   "encoding": {
     "x": {"field": "r", "type": "quantitative", "scale": {"domain": [1.8, 5.0], "nice": false, "zero": false}, "axis": {"title": "r [nm]", "values": [2, 2.5, 3, 3.5, 4, 4.5, 5], "format": ".1f", "titlePadding": 4}}
   },
   "layer": [
    {"mark": {"type": "area", "opacity": 0.3, "interpolate": "monotone"},
     "encoding": {
       "y": {"field": "lo", "type": "quantitative", "scale": {"domain": [-0.05, 1.05], "nice": false, "zero": false}, "axis": {"title": "P(r)", "labels": false, "ticks": false, "titlePadding": 4}},
       "y2": {"field": "hi"},
       "fill": {"datum": "Uncertainty", "scale": {"domain": ["Uncertainty"], "range": ["#4c72b0"]},
         "legend": {"legendX": 360.5, "legendY": 59.8, "symbolType": "M-1,-0.33H1V0.33H-1Z", "symbolSize": 1600, "symbolOpacity": 0.3, "labelOffset": 14}}}},
    {"mark": {"type": "line", "strokeWidth": 4.5, "interpolate": "monotone"},
     "encoding": {"y": {"field": "p", "type": "quantitative"},
       "color": {"datum": "Distance distr.", "scale": {"domain": ["Distance distr."], "range": ["#4c72b0"]},
         "legend": {"legendX": 360.5, "legendY": 18.8, "symbolType": "stroke", "symbolSize": 1600, "symbolStrokeWidth": 4.5, "labelOffset": 14, "labelBaseline": "line-bottom",
           "labelExpr": "['Distance', 'distr.']"}}}}
   ]
  }
 ]
}
]
}
